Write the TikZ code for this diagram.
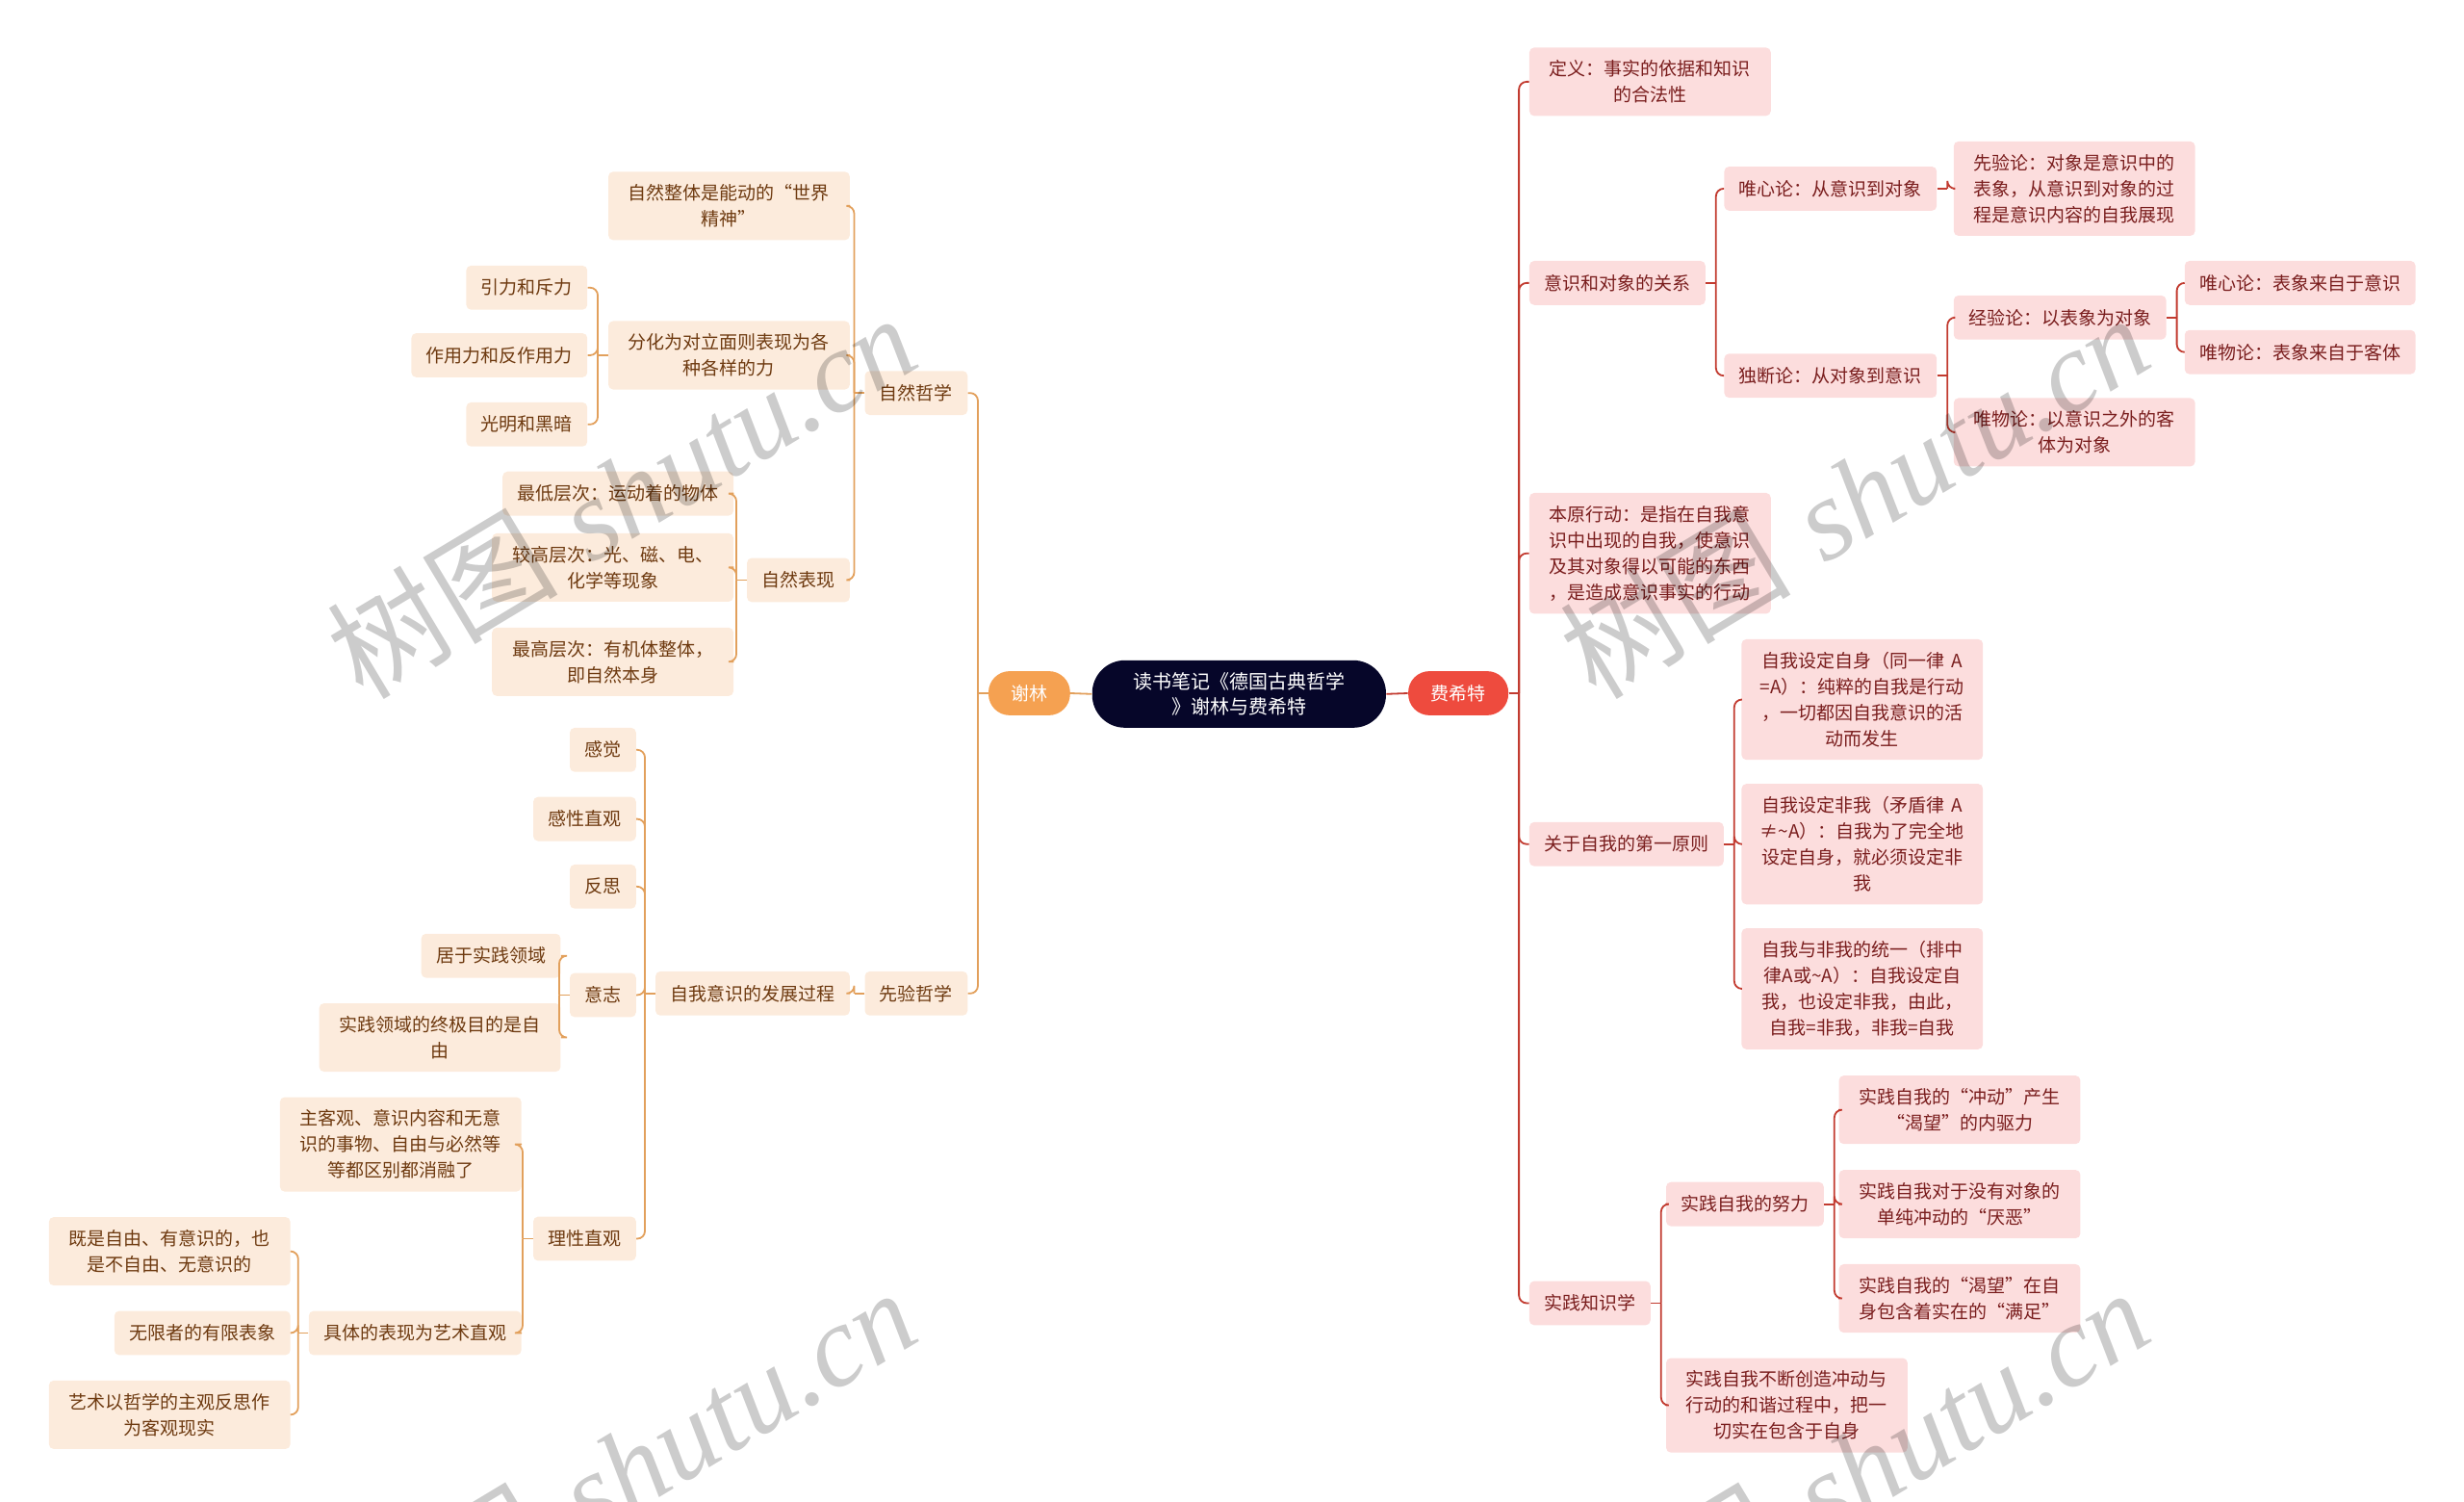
\documentclass[tikz,border=0pt]{standalone}
\usepackage{fontspec}
\newfontfamily\cjk{Noto Sans CJK SC}
\newfontfamily\wmlatin{Liberation Serif}
\definecolor{rootnavy}{HTML}{060629}
\definecolor{xlorange}{HTML}{F5A151}
\definecolor{fxred}{HTML}{EE4B3E}
\definecolor{lfill}{HTML}{FCEBDC}
\definecolor{ltext}{HTML}{6E3A10}
\definecolor{lbranch}{HTML}{E2A05C}
\definecolor{rfill}{HTML}{FCDDDD}
\definecolor{rtext}{HTML}{7A1E1E}
\definecolor{rbranch}{HTML}{C23B30}
\tikzset{
  topic/.style={rounded corners=2.5pt, inner xsep=7.7pt, inner ysep=6.6pt,
    minimum height=22.9pt, font=\cjk\fontsize{9.5}{13.5}\selectfont, align=center},
  lbox/.style={topic, fill=lfill, text=ltext, anchor=east},
  rbox/.style={topic, fill=rfill, text=rtext, anchor=west},
  wide/.style={text width=110pt},
  pill/.style={inner sep=0pt, text=white, align=center,
    font=\cjk\fontsize{9.5}{13}\selectfont},
  lconn/.style={draw=lbranch, line width=0.9pt},
  rconn/.style={draw=rbranch, line width=0.9pt},
  wmark/.style={text=black, text opacity=0.2, rotate=31,
    font=\fontsize{60}{60}\selectfont}
}
% parent -> child, child on the left
\newcommand{\linkL}[3]{%
  \draw[#1] (#2.west) -- ++(-6.5,0);
  \draw[#1, rounded corners=4pt] (#2.west) ++(-6.5,0) |- (#3.east);
}
% parent -> child, child on the right
\newcommand{\linkR}[3]{%
  \draw[#1] (#2.east) -- ++(6.5,0);
  \draw[#1, rounded corners=4pt] (#2.east) ++(6.5,0) |- (#3.west);
}
\begin{document}
\begin{tikzpicture}[x=0.8163pt, y=-0.8163pt]
  \useasboundingbox (0,0) rectangle (1568,955);
  \clip (0,0) rectangle (1568,955);

  % centre
  \node[pill, fill=rootnavy, minimum width=152.6pt, minimum height=35pt,
    rounded corners=17pt, font=\cjk\fontsize{10}{13}\selectfont]
    (root) at (788.5,441.5) {读书笔记《德国古典哲学\\》谢林与费希特};
  \node[pill, fill=xlorange, minimum width=42.4pt, minimum height=22.9pt,
    rounded corners=11pt] (xl) at (655,441) {谢林};
  \node[pill, fill=fxred, minimum width=52pt, minimum height=22.9pt,
    rounded corners=11pt] (fx) at (928,441) {费希特};

  % ---------------- Schelling ----------------
  \node[lbox] (zx) at (616,250) {自然哲学};
  \node[lbox] (xy) at (616,632) {先验哲学};

  \node[lbox, wide] (zx1) at (541,131) {自然整体是能动的“世界\\精神”};
  \node[lbox, wide] (zx2) at (541,226) {分化为对立面则表现为各\\种各样的力};
  \node[lbox] (zx3) at (541,369) {自然表现};

  \node[lbox] (fh1) at (374,183) {引力和斥力};
  \node[lbox] (fh2) at (374,226) {作用力和反作用力};
  \node[lbox] (fh3) at (374,270) {光明和黑暗};

  \node[lbox] (bx1) at (467,314) {最低层次：运动着的物体};
  \node[lbox, wide] (bx2) at (467,361) {较高层次：光、磁、电、\\化学等现象};
  \node[lbox, wide] (bx3) at (467,421) {最高层次：有机体整体，\\即自然本身};

  \node[lbox] (xy1) at (541,632) {自我意识的发展过程};
  \node[lbox] (ys1) at (405,477) {感觉};
  \node[lbox] (ys2) at (405,521) {感性直观};
  \node[lbox] (ys3) at (405,564) {反思};
  \node[lbox] (ys4) at (405,633) {意志};
  \node[lbox] (ys5) at (405,788) {理性直观};

  \node[lbox] (yz1) at (357,608) {居于实践领域};
  \node[lbox, wide] (yz2) at (357,660) {实践领域的终极目的是自\\由};

  \node[lbox, wide] (lx1) at (332,728) {主客观、意识内容和无意\\识的事物、自由与必然等\\等都区别都消融了};
  \node[lbox] (lx2) at (332,848) {具体的表现为艺术直观};

  \node[lbox, wide] (art1) at (185,796) {既是自由、有意识的，也\\是不自由、无意识的};
  \node[lbox] (art2) at (185,848) {无限者的有限表象};
  \node[lbox, wide] (art3) at (185,900) {艺术以哲学的主观反思作\\为客观现实};

  % ---------------- Fichte ----------------
  \node[rbox, wide] (def) at (973,52) {定义：事实的依据和知识\\的合法性};
  \node[rbox] (rel) at (973,180) {意识和对象的关系};
  \node[rbox, wide] (act) at (973,352) {本原行动：是指在自我意\\识中出现的自我，使意识\\及其对象得以可能的东西\\，是造成意识事实的行动};
  \node[rbox] (prin) at (973,537) {关于自我的第一原则};
  \node[rbox] (prac) at (973,829) {实践知识学};

  \node[rbox] (rel1) at (1097,120) {唯心论：从意识到对象};
  \node[rbox] (rel2) at (1097,239) {独断论：从对象到意识};
  \node[rbox, wide] (rel11) at (1243,120) {先验论：对象是意识中的\\表象，从意识到对象的过\\程是意识内容的自我展现};
  \node[rbox] (rel21) at (1243,202) {经验论：以表象为对象};
  \node[rbox, wide] (rel22) at (1243,275) {唯物论：以意识之外的客\\体为对象};
  \node[rbox] (rel211) at (1390,180) {唯心论：表象来自于意识};
  \node[rbox] (rel212) at (1390,224) {唯物论：表象来自于客体};

  \node[rbox, wide] (prin1) at (1108,445) {自我设定自身（同一律 A\\=A）：纯粹的自我是行动\\，一切都因自我意识的活\\动而发生};
  \node[rbox, wide] (prin2) at (1108,537) {自我设定非我（矛盾律 A\\≠\textasciitilde A）：自我为了完全地\\设定自身，就必须设定非\\我};
  \node[rbox, wide] (prin3) at (1108,629) {自我与非我的统一（排中\\律A或\textasciitilde A）：自我设定自\\我，也设定非我，由此，\\自我=非我，非我=自我};

  \node[rbox] (prac1) at (1060,766) {实践自我的努力};
  \node[rbox, wide] (prac2) at (1060,894) {实践自我不断创造冲动与\\行动的和谐过程中，把一\\切实在包含于自身};
  \node[rbox, wide] (prac11) at (1170,706) {实践自我的“冲动”产生\\“渴望”的内驱力};
  \node[rbox, wide] (prac12) at (1170,766) {实践自我对于没有对象的\\单纯冲动的“厌恶”};
  \node[rbox, wide] (prac13) at (1170,826) {实践自我的“渴望”在自\\身包含着实在的“满足”};

  % connectors
  \draw[lconn] (root.west) -- (xl.east);
  \draw[rconn] (root.east) -- (fx.west);

  \foreach \k in {zx,xy} {\linkL{lconn}{xl}{\k}}
  \foreach \k in {zx1,zx2,zx3} {\linkL{lconn}{zx}{\k}}
  \foreach \k in {fh1,fh2,fh3} {\linkL{lconn}{zx2}{\k}}
  \foreach \k in {bx1,bx2,bx3} {\linkL{lconn}{zx3}{\k}}
  \linkL{lconn}{xy}{xy1}
  \foreach \k in {ys1,ys2,ys3,ys4,ys5} {\linkL{lconn}{xy1}{\k}}
  \foreach \k in {yz1,yz2} {\linkL{lconn}{ys4}{\k}}
  \foreach \k in {lx1,lx2} {\linkL{lconn}{ys5}{\k}}
  \foreach \k in {art1,art2,art3} {\linkL{lconn}{lx2}{\k}}

  \foreach \k in {def,rel,act,prin,prac} {\linkR{rconn}{fx}{\k}}
  \foreach \k in {rel1,rel2} {\linkR{rconn}{rel}{\k}}
  \linkR{rconn}{rel1}{rel11}
  \foreach \k in {rel21,rel22} {\linkR{rconn}{rel2}{\k}}
  \foreach \k in {rel211,rel212} {\linkR{rconn}{rel21}{\k}}
  \foreach \k in {prin1,prin2,prin3} {\linkR{rconn}{prin}{\k}}
  \foreach \k in {prac1,prac2} {\linkR{rconn}{prac}{\k}}
  \foreach \k in {prac11,prac12,prac13} {\linkR{rconn}{prac1}{\k}}

  % watermarks
  \foreach \wx/\wy in {395/315, 1180/315, 395/935, 1180/935}
    \node[wmark] at (\wx,\wy) {{\cjk 树图} {\wmlatin\itshape shutu.cn}};
\end{tikzpicture}
\end{document}
